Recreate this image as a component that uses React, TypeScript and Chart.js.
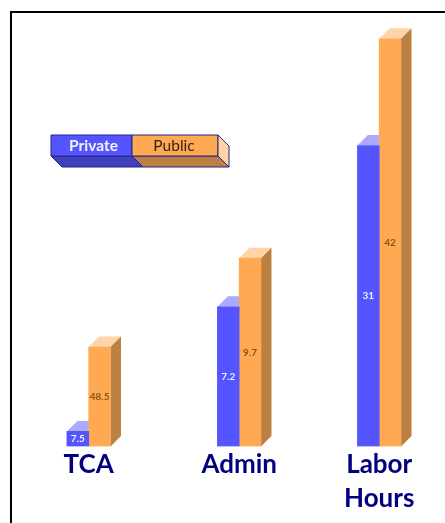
import React, { useEffect, useRef } from "react";
import { Chart, registerables } from "chart.js";

Chart.register(...registerables);

const categories = ["TCA", "Admin", ["Labor", "Hours"]];
// Category positions on the x scale (groups are not evenly spaced in the source)
const groupSlots = [0, 1.036, 2];
// Bar heights as drawn in the picture (the printed labels use their own per-group scale)
const privateHeights = [1.55, 14.4, 31];
const publicHeights = [10.25, 19.4, 42];
const privateLabels = ["7.5", "7.2", "31"];
const publicLabels = ["48.5", "9.7", "42"];

const FONT = "Lato, 'Open Sans', sans-serif";
const DEPTH = 10.5;

const styles = [
  { front: "#5555FF", top: "#AAAAFF", side: "#4040BF", text: "#EEEEFF", labels: privateLabels, legendText: "#F4F4FF" },
  { front: "#FFA952", top: "#FFD4A8", side: "#BC8042", text: "#8A5414", labels: publicLabels, legendText: "#33240F" },
];

function poly(ctx: CanvasRenderingContext2D, pts: number[][], fill: string, stroke?: string) {
  ctx.beginPath();
  pts.forEach((p, i) => (i ? ctx.lineTo(p[0], p[1]) : ctx.moveTo(p[0], p[1])));
  ctx.closePath();
  ctx.fillStyle = fill;
  ctx.fill();
  if (stroke) {
    ctx.strokeStyle = stroke;
    ctx.lineWidth = 1;
    ctx.stroke();
  }
}

const framePlugin = {
  id: "frame",
  beforeDraw(chart: any) {
    const { ctx, width, height } = chart;
    ctx.save();
    ctx.fillStyle = "#FFFFFF";
    ctx.fillRect(0, 0, width, height);
    ctx.fillStyle = "#000000";
    ctx.fillRect(10, 11, 2, height - 11);
    ctx.fillRect(10, 11, width - 10, 2);
    ctx.restore();
  },
};

const depthPlugin = {
  id: "depth",
  beforeDatasetsDraw(chart: any) {
    const { ctx } = chart;
    ctx.save();
    chart.data.datasets.forEach((_: any, d: number) => {
      const s = styles[d];
      chart.getDatasetMeta(d).data.forEach((bar: any) => {
        const p = bar.getProps(["x", "y", "base", "width"]);
        const l = p.x - p.width / 2;
        const r = p.x + p.width / 2;
        poly(ctx, [[l, p.y], [l + DEPTH, p.y - DEPTH], [r + DEPTH, p.y - DEPTH], [r, p.y]], s.top);
        poly(ctx, [[r, p.y], [r + DEPTH, p.y - DEPTH], [r + DEPTH, p.base - DEPTH], [r, p.base]], s.side);
      });
    });
    ctx.restore();
  },
  afterDatasetsDraw(chart: any) {
    const { ctx } = chart;
    ctx.save();
    ctx.font = `bold 10px ${FONT}`;
    ctx.textAlign = "center";
    ctx.textBaseline = "middle";
    chart.data.datasets.forEach((_: any, d: number) => {
      const s = styles[d];
      chart.getDatasetMeta(d).data.forEach((bar: any, i: number) => {
        const p = bar.getProps(["x", "y", "base"]);
        ctx.fillStyle = s.text;
        ctx.fillText(s.labels[i], p.x, (p.y + p.base) / 2);
      });
    });
    ctx.restore();
  },
};

const legendPlugin = {
  id: "legend3d",
  afterDraw(chart: any) {
    const { ctx } = chart;
    const line = "#23238F";
    const top = 135;
    const h = 21;
    const d = 11;
    const xs = [51, 132, 218];
    ctx.save();
    chart.data.datasets.forEach((ds: any, i: number) => {
      const s = styles[i];
      const l = xs[i];
      const r = xs[i + 1];
      poly(ctx, [[l, top + h], [l + d, top + h + d], [r + d, top + h + d], [r, top + h]], s.side, line);
      poly(ctx, [[l, top], [r, top], [r, top + h], [l, top + h]], s.front, line);
      ctx.font = `${i === 0 ? "bold " : ""}15.5px ${FONT}`;
      ctx.textAlign = "center";
      ctx.textBaseline = "middle";
      ctx.fillStyle = s.legendText;
      ctx.fillText(ds.label, (l + r) / 2 + (i === 0 ? 2 : -1), top + h / 2);
    });
    const e = xs[2];
    poly(ctx, [[e, top], [e + d, top + d], [e + d, top + h + d], [e, top + h]], styles[1].top, line);
    ctx.restore();
  },
};

export default function App() {
  const ref = useRef<HTMLCanvasElement>(null);
  useEffect(() => {
    document.body.style.margin = "0";
    const chart = new Chart(ref.current!, {
      type: "bar",
      data: {
        datasets: [
          {
            label: "Private",
            data: groupSlots.map((x, i) => ({ x, y: privateHeights[i] })),
            backgroundColor: styles[0].front,
            barThickness: 21.8,
          },
          {
            label: "Public",
            data: groupSlots.map((x, i) => ({ x, y: publicHeights[i] })),
            backgroundColor: styles[1].front,
            barThickness: 21.8,
          },
        ],
      },
      options: {
        animation: false,
        responsive: false,
        layout: { padding: 0 },
        plugins: { legend: { display: false }, tooltip: { enabled: false } },
        scales: {
          x: {
            type: "linear",
            offset: false,
            min: -0.6105,
            max: 2.453,
            grid: { display: false },
            border: { display: false },
            afterBuildTicks(axis: any) {
              axis.ticks = groupSlots.map((value) => ({ value }));
            },
            afterFit(axis: any) {
              axis.height = 76.5;
            },
            ticks: {
              autoSkip: false,
              maxRotation: 0,
              minRotation: 0,
              padding: -7,
              color: "#000080",
              font: { family: FONT, size: 26, weight: "bold", lineHeight: 1.31 },
              callback: (v: any) => categories[groupSlots.indexOf(v)] as any,
            },
          },
          y: { display: false, min: 0, max: 46 },
        },
      } as any,
      plugins: [framePlugin, depthPlugin, legendPlugin],
    });
    return () => chart.destroy();
  }, []);
  return <canvas ref={ref} width={445} height={523} style={{ display: "block" }} />;
}
